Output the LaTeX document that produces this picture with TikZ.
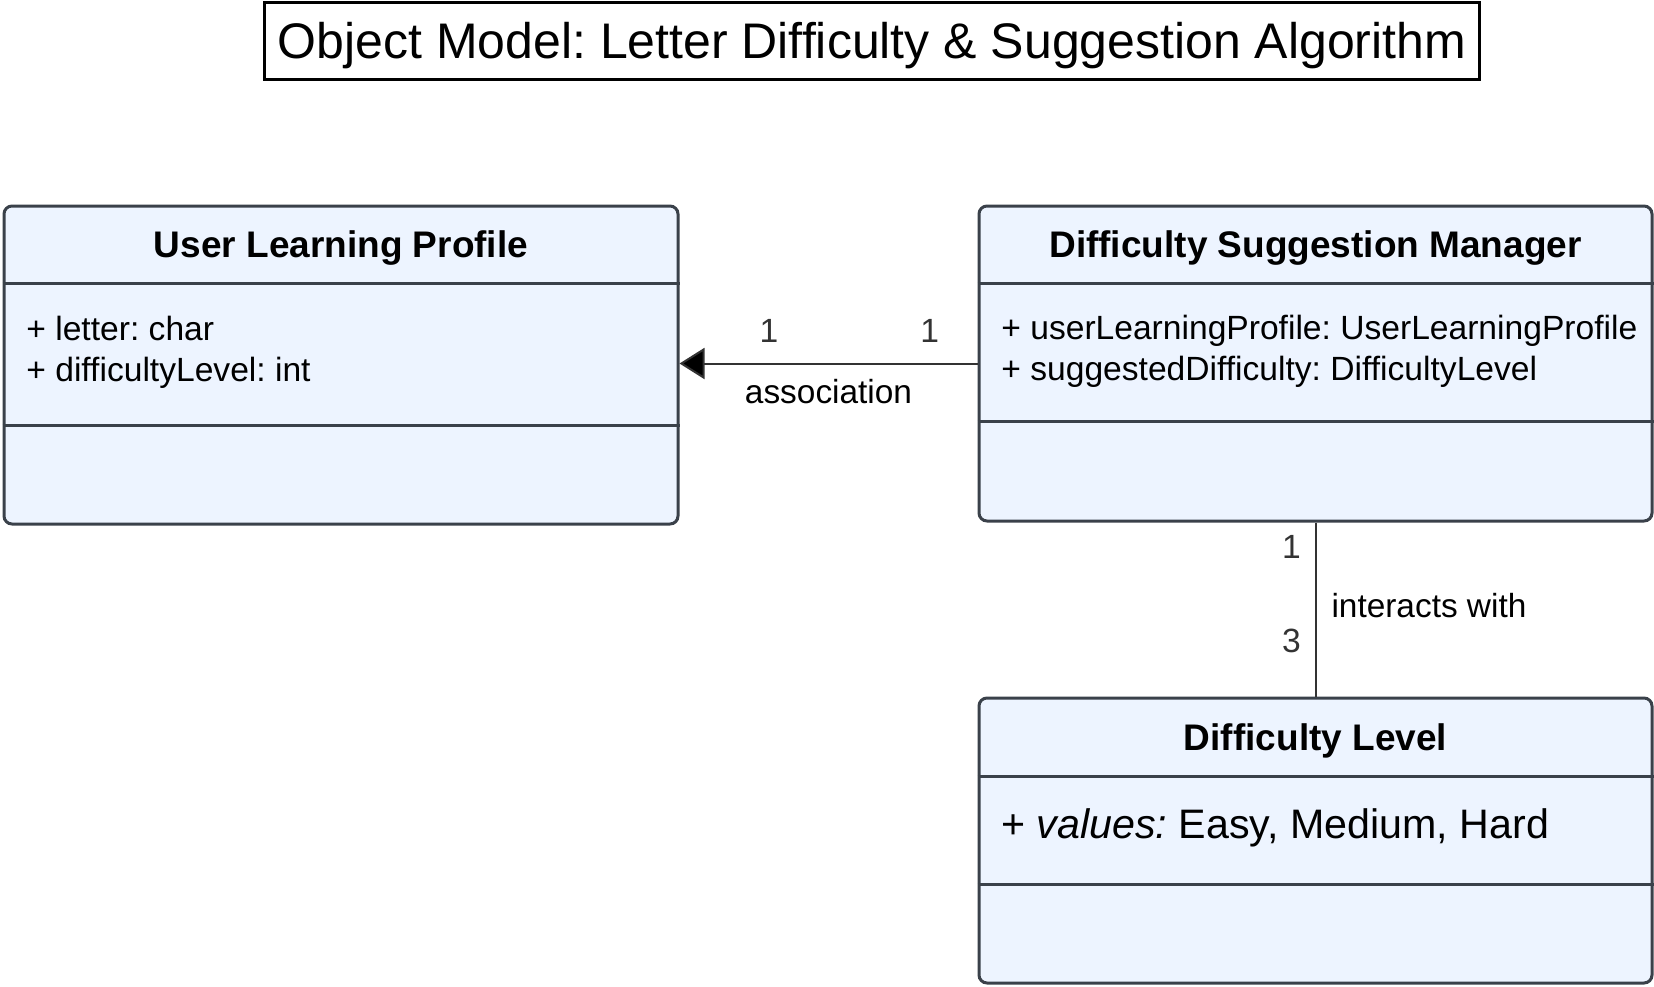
\documentclass[tikz,border=0pt]{standalone}
\usepackage{fontspec}
\setmainfont{Liberation Sans}
\usetikzlibrary{arrows.meta}
\definecolor{boxfill}{HTML}{EDF4FF}
\definecolor{boxline}{HTML}{3A414A}
\definecolor{lbl}{HTML}{333333}
\frenchspacing

\begin{document}
\begin{tikzpicture}[x=0.5pt,y=-0.5pt,
  cls/.style={draw=boxline,fill=boxfill,line width=1.5pt,rounded corners=4pt,inner sep=0pt},
  sep/.style={draw=boxline,line width=1.5pt},
  hdr/.style={font=\fontsize{18.5}{22}\selectfont\bfseries},
  attr/.style={font=\fontsize{16.8}{20.5}\selectfont,align=left,anchor=west,inner sep=0pt},
  mult/.style={font=\fontsize{16.8}{20}\selectfont,text=lbl,inner sep=0pt},
  lab/.style={font=\fontsize{16.7}{20}\selectfont,inner sep=0pt}]
  \useasboundingbox (0,0) rectangle (1654,986);

  \node[draw=black,line width=1.5pt,minimum width=607.5pt,minimum height=38.5pt,text depth=0pt,
        font=\fontsize{25}{30}\selectfont] (title) at (872,40.5)
    {Object Model: Letter Difficulty \& Suggestion Algorithm};

  \node[cls,minimum width=337pt,minimum height=159pt] (ulp) at (341,365) {};
  \node[cls,minimum width=336.5pt,minimum height=157.5pt] (dsm) at (1315.5,363.5) {};
  \node[cls,minimum width=336.5pt,minimum height=142.5pt] (dl) at (1315.5,840.5) {};
  \foreach \b/\y in {ulp/283,ulp/425,dsm/283,dsm/421,dl/776,dl/884}
    \draw[sep] (\b.west |- 0,\y) -- (\b.east |- 0,\y);

  \node[hdr] (ulp-h) at (341,248.5) {User Learning Profile};
  \node[hdr] (dsm-h) at (1315.5,248.5) {Difficulty Suggestion Manager};
  \node[hdr] (dl-h) at (1315.5,740.5) {Difficulty Level};

  \node[attr] (ulp-a) at (26,352.5) {+ letter: char\\+ difficultyLevel: int};
  \node[attr] (dsm-a) at (1001,351)
    {+ userLearningProfile: UserLearningProfile\\+ suggestedDifficulty: DifficultyLevel};
  \node[attr,font=\fontsize{20.6}{24}\selectfont] (dl-a) at (1001,827.5)
    {+ \textit{values:} Easy, Medium, Hard};

  \path[draw=lbl,line width=1pt]
    (dsm.west) edge[-{Triangle[length=12.5pt,width=15.5pt]}]
         node[mult,pos=0.16,yshift=16.5pt] {1}
         node[mult,pos=0.70,yshift=16.5pt] {1}
         node[lab,pos=0.50,yshift=-14pt] {association} (ulp.east |- dsm.west)
    (dsm.south) edge
         node[mult,pos=0.14,xshift=-12pt] {1}
         node[mult,pos=0.68,xshift=-12pt] {3}
         node[lab,pos=0.48,anchor=west,xshift=7.5pt] {interacts with} (dl.north);
\end{tikzpicture}
\end{document}
